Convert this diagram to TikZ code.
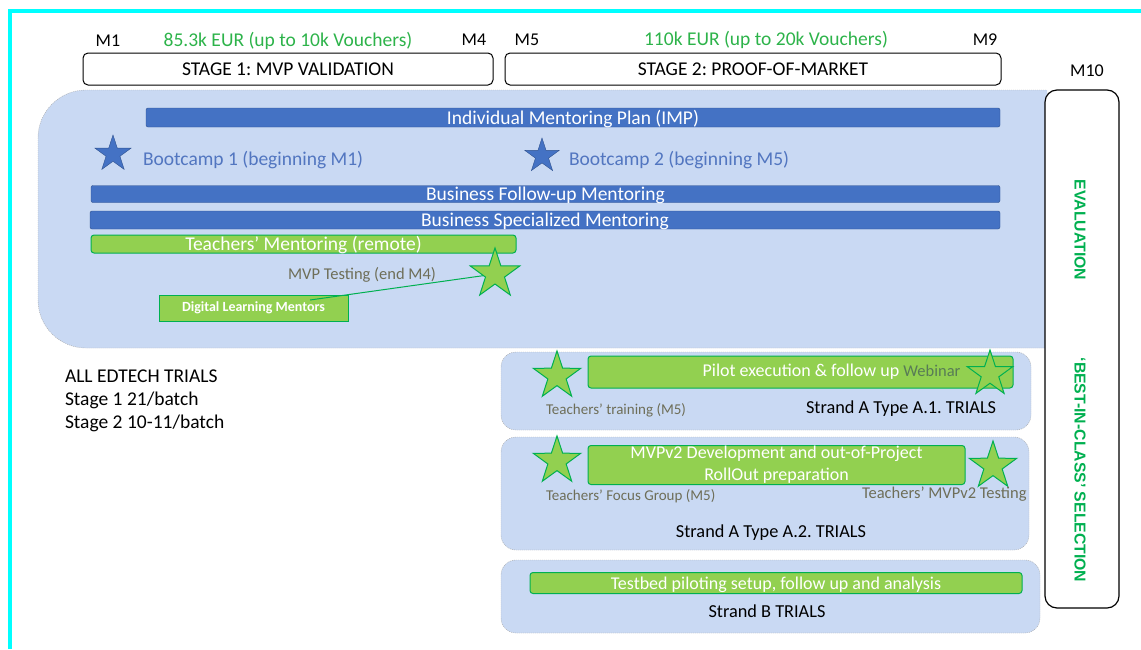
\documentclass[tikz,border=0pt]{standalone}
\usepackage{fontspec}
\setmainfont{Carlito}
\newfontfamily\evalfont{Liberation Sans}
\usetikzlibrary{shapes.geometric, positioning, calc}
\frenchspacing

\definecolor{framecyan}{RGB}{0,255,255}
\definecolor{barblue}{HTML}{4472C4}
\definecolor{barblueline}{HTML}{2F528F}
\definecolor{bargreen}{HTML}{92D050}
\definecolor{bargreenline}{HTML}{00B050}
\definecolor{regionblue}{HTML}{C9D9F3}
\definecolor{notegray}{HTML}{6E6E58}
\definecolor{campblue}{HTML}{5276C0}
\definecolor{eurgreen}{HTML}{2DB34A}

\begin{document}
\begin{tikzpicture}[x=1pt, y=-1pt,
         every node/.style={inner sep=0pt, outer sep=0pt},
         month/.style={font=\fontsize{18}{21}\selectfont},
         budget/.style={font=\fontsize{19.5}{22}\selectfont, text=eurgreen},
         stagebox/.style={draw, rounded corners=5pt, line width=1pt, fill=white, font=\fontsize{19.5}{22}\selectfont,
                          text height=13pt, text depth=0pt},
         region/.style={fill=regionblue, draw=gray!70, dash pattern=on 1pt off 1pt},
         strandbox/.style={region, rounded corners=15pt},
         bluebar/.style={draw=barblueline, fill=barblue, rounded corners=2pt, text=white,
                         font=\fontsize{19.5}{22}\selectfont, text height=13pt, text depth=0pt},
         greenbar/.style={draw=bargreenline, fill=bargreen, rounded corners=3pt, line width=1pt, text=white,
                          font=\fontsize{18}{22}\selectfont},
         bluestar/.style={star, star points=5, star point ratio=2.6, fill=barblue, draw=barblueline},
         greenstar/.style={star, star points=5, star point ratio=2.6, fill=bargreen, draw=bargreenline, line width=1pt},
         campnote/.style={text=campblue, font=\fontsize{19.5}{22}\selectfont, anchor=west},
         note/.style={text=notegray, font=\fontsize{15}{18}\selectfont},
         strandlabel/.style={font=\fontsize{18.3}{21}\selectfont},
         evaltext/.style={rotate=-90, text=bargreenline, font=\evalfont\bfseries\fontsize{15.8}{18}\selectfont}
      ]
         \useasboundingbox (0,0) rectangle (1141,649);
         % frame
         \draw[framecyan, line width=4pt] (10,649) -- (10,11) -- (1141,11);

         % Months and budgets
         \node[month] (m1) at (108,41) {M1};
         \node[budget] (eur1) at (288,41) {85.3k EUR (up to 10k Vouchers)};
         \node[month] (m4) at (474,40) {M4};
         \node[month] (m5) at (527,40) {M5};
         \node[budget] (eur2) at (766,40) {110k EUR (up to 20k Vouchers)};
         \node[month] (m9) at (985,40) {M9};
         \node[month] (m10) at (1087,71) {M10};

         % Stages
         \node[stagebox, minimum width=410pt, minimum height=32pt] (stage1) at (288,69) {STAGE 1: MVP VALIDATION};
         \node[stagebox, minimum width=496pt, minimum height=32pt] (stage2) at (753,69) {STAGE 2: PROOF-OF-MARKET};

         % Mentoring region
         \begin{scope}
            \clip (0,0) rectangle (1047,649);
            \draw[region, rounded corners=48pt] (38,90) rectangle (1200,348);
         \end{scope}

         \node[bluebar, minimum width=854pt, minimum height=19pt] (imp) at (573,117.5) {Individual Mentoring Plan (IMP)};
         \node[bluestar, minimum size=38pt] (bc1star) at (113,154) {};
         \node[campnote] (bc1) at (143,160) {Bootcamp 1 (beginning M1)};
         \node[bluestar, minimum size=36pt] (bc2star) at (542,156) {};
         \node[campnote] (bc2) at (569,160) {Bootcamp 2 (beginning M5)};
         \node[bluebar, minimum width=909pt, minimum height=17pt] (bfm) at (545.5,194) {Business Follow-up Mentoring};
         \node[bluebar, minimum width=910pt, minimum height=18pt] (bsm) at (545,220) {Business Specialized Mentoring};
         \node[greenbar, minimum width=425pt, minimum height=18pt, font=\fontsize{19.5}{22}\selectfont,
               text height=13pt, text depth=0pt] (tm) at (303.5,244) {Teachers’ Mentoring (remote)};

         % MVP testing
         \node[greenstar, minimum size=52pt] (mvpstar) at (495,274) {};
         \node[note, font=\fontsize{16.5}{19}\selectfont] (mvp) at (362,275) {MVP Testing (end M4)};
         \node[greenbar, rounded corners=0pt, minimum width=189pt, minimum height=26pt,
               font=\bfseries\fontsize{14}{16}\selectfont] (dlm) at (253.5,308) {Digital Learning Mentors};
         \draw[bargreenline, line width=1pt] ($(dlm.north east)+(-38,5)$) -- (mvpstar);

         % Evaluation
         \node[draw, line width=1.2pt, rounded corners=12pt, fill=white, minimum width=74pt, minimum height=518pt] (eval) at (1082,349) {};
         \node[evaltext] (evalt) at (1080,230) {EVALUATION};
         \node[evaltext] (best) at (1080,470) {‘BEST-IN-CLASS’ SELECTION};

         % All trials
         \node[anchor=north west, align=left, font=\fontsize{19.5}{23}\selectfont] (all) at (65,370)
            {ALL EDTECH TRIALS\\Stage 1 21/batch\\Stage 2 10-11/batch};

         % Strand A type A.1
         \node[strandbox, minimum width=530pt, minimum height=78pt] (a1) at (766,391) {};
         \node[greenbar, minimum width=425pt, minimum height=32pt] (pilot) at (800.5,372) {};
         \node[text=white, font=\fontsize{18}{21}\selectfont] (pilottext) at ([xshift=31pt]pilot.center)
            {Pilot execution \& follow up {\color{notegray!80!bargreenline}\fontsize{16.5}{18}\selectfont Webinar}};
         \node[greenstar, minimum size=50pt] (a1star1) at (557,376) {};
         \node[greenstar, minimum size=48pt] (a1star2) at (990,374) {};
         \node[note, anchor=west] (a1note) at (546,410) {Teachers’ training (M5)};
         \node[strandlabel, anchor=west] (a1label) at (806,409) {Strand A Type A.1. TRIALS};

         % Strand A type A.2
         \node[strandbox, minimum width=528pt, minimum height=113pt] (a2) at (765,493.5) {};
         \node[greenbar, minimum width=377pt, minimum height=39pt, align=center] (mvpv2) at (776.5,465)
            {MVPv2 Development and out-of-Project\\RollOut preparation};
         \node[greenstar, minimum size=50pt] (a2star1) at (557,461) {};
         \node[greenstar, minimum size=50pt] (a2star2) at (993,466) {};
         \node[note, anchor=west] (a2note1) at (546,496) {Teachers’ Focus Group (M5)};
         \node[note, anchor=west, font=\fontsize{16.5}{19}\selectfont] (a2note2) at (862,494) {Teachers’ MVPv2 Testing};
         \node[strandlabel] (a2label) at (771,533) {Strand A Type A.2. TRIALS};

         % Strand B
         \node[strandbox, minimum width=539pt, minimum height=73pt] (b) at (770.5,596.5) {};
         \node[greenbar, minimum width=492pt, minimum height=21pt, text height=12pt, text depth=0pt] (testbed) at (776,583)
            {Testbed piloting setup, follow up and analysis};
         \node[strandlabel] (blabel) at (767,611) {Strand B TRIALS};
      \end{tikzpicture}
\end{document}
